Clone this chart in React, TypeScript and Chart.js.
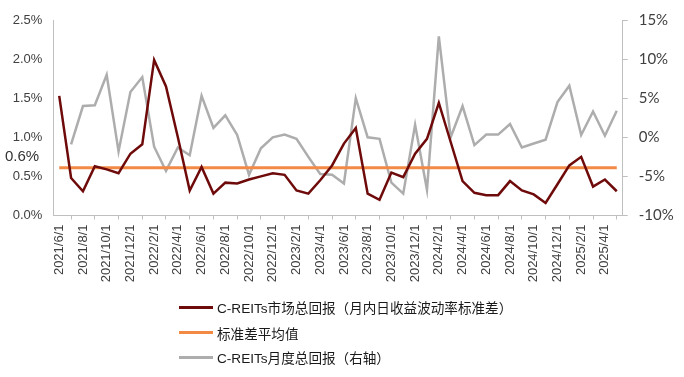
import React, { useEffect, useRef } from "react";
import { Chart, registerables } from "chart.js";

Chart.register(...registerables);

const categories: string[] = [
  "2021/6/1", "2021/7/1", "2021/8/1", "2021/9/1", "2021/10/1", "2021/11/1", "2021/12/1",
  "2022/1/1", "2022/2/1", "2022/3/1", "2022/4/1", "2022/5/1", "2022/6/1", "2022/7/1",
  "2022/8/1", "2022/9/1", "2022/10/1", "2022/11/1", "2022/12/1", "2023/1/1", "2023/2/1",
  "2023/3/1", "2023/4/1", "2023/5/1", "2023/6/1", "2023/7/1", "2023/8/1", "2023/9/1",
  "2023/10/1", "2023/11/1", "2023/12/1", "2024/1/1", "2024/2/1", "2024/3/1", "2024/4/1",
  "2024/5/1", "2024/6/1", "2024/7/1", "2024/8/1", "2024/9/1", "2024/10/1", "2024/11/1",
  "2024/12/1", "2025/1/1", "2025/2/1", "2025/3/1", "2025/4/1", "2025/5/1",
];

// C-REITs market total return: intra-month daily return volatility (std, %)
const volatility: number[] = [
  1.53, 0.48, 0.31, 0.63, 0.59, 0.54, 0.79, 0.91, 1.99, 1.65,
  1.0, 0.32, 0.62, 0.28, 0.42, 0.41, 0.46, 0.5, 0.54, 0.52,
  0.32, 0.28, 0.45, 0.64, 0.92, 1.12, 0.28, 0.2, 0.55, 0.49,
  0.79, 0.98, 1.44, 0.94, 0.44, 0.29, 0.26, 0.26, 0.44, 0.32,
  0.27, 0.16, 0.4, 0.64, 0.75, 0.37, 0.46, 0.31,
];

// Average of the standard deviation (%)
const volatilityMean = 0.61;
const meanLine: number[] = categories.map(() => volatilityMean);

// C-REITs monthly total return (%), right axis
const monthlyReturn: (number | null)[] = [
  null, -0.9, 4.0, 4.1, 8.0, -1.8, 5.8, 7.7, -1.2, -4.3,
  -1.3, -2.3, 5.3, 1.2, 2.8, 0.3, -4.8, -1.4, 0.0, 0.35,
  -0.2, -2.5, -4.7, -4.8, -5.9, 5.0, 0.0, -0.2, -5.8, -7.2,
  1.6, -6.7, 12.9, 0.0, 4.0, -1.0, 0.35, 0.35, 1.7, -1.3,
  -0.8, -0.3, 4.5, 6.6, 0.3, 3.3, 0.2, 3.4,
];

const leftTicks: number[] = [0, 0.5, 1.0, 1.5, 2.0, 2.5];
const rightTicks: number[] = [-10, -5, 0, 5, 10, 15];

const seriesNames: string[] = [
  "C-REITs市场总回报（月内日收益波动率标准差）",
  "标准差平均值",
  "C-REITs月度总回报（右轴）",
];
const annotationText = "0.6%";

const RED = "#6E0A0A";
const ORANGE = "#F28A46";
const GRAY = "#ADADAD";
const AXIS = "#BFBFBF";
const TEXT = "#404040";
const LATIN = "'Liberation Sans', Arial, sans-serif";
const CJK = "'Liberation Sans', 'Noto Sans CJK SC', sans-serif";

export default function App() {
  const ref = useRef<HTMLCanvasElement | null>(null);

  useEffect(() => {
    if (!ref.current) return;
    const annotation = {
      id: "meanLabel",
      afterDraw(chart: any) {
        const ctx = chart.ctx;
        ctx.save();
        ctx.font = "15px " + LATIN;
        ctx.fillStyle = "#333333";
        ctx.textAlign = "left";
        ctx.textBaseline = "middle";
        ctx.fillText(annotationText, 5, 157);
        ctx.restore();
      },
    };
    const chart = new Chart(ref.current, {
      type: "line",
      data: {
        labels: categories,
        datasets: [
          {
            label: seriesNames[0],
            data: volatility,
            borderColor: RED,
            borderWidth: 2.5,
            yAxisID: "y",
            pointRadius: 0,
            tension: 0,
          },
          {
            label: seriesNames[1],
            data: meanLine,
            borderColor: ORANGE,
            borderWidth: 3,
            yAxisID: "y",
            pointRadius: 0,
            tension: 0,
          },
          {
            label: seriesNames[2],
            data: monthlyReturn,
            borderColor: GRAY,
            borderWidth: 2.5,
            yAxisID: "y1",
            pointRadius: 0,
            tension: 0,
          },
        ],
      },
      options: {
        animation: false,
        responsive: false,
        layout: { padding: { top: 19, left: 0, right: 0, bottom: 0 } },
        plugins: { legend: { display: false }, tooltip: { enabled: false } },
        scales: {
          x: {
            offset: true,
            grid: {
              offset: true,
              drawOnChartArea: false,
              drawTicks: true,
              tickLength: 4,
              color: AXIS,
            },
            border: { display: true, color: AXIS, width: 1 },
            ticks: {
              autoSkip: false,
              minRotation: 90,
              maxRotation: 90,
              padding: 5,
              color: TEXT,
              font: { family: LATIN, size: 13 },
              callback: (_v: any, i: number) => (i % 2 === 0 ? categories[i] : null),
            },
            afterFit: (s: any) => {
              s.height = 161.5;
            },
          },
          y: {
            position: "left",
            min: 0,
            max: 2.5,
            afterBuildTicks: (s: any) => {
              s.ticks = leftTicks.map((v) => ({ value: v }));
            },
            grid: { drawOnChartArea: false, drawTicks: false },
            border: { display: true, color: AXIS, width: 1 },
            ticks: {
              padding: 11,
              color: TEXT,
              font: { family: LATIN, size: 13 },
              callback: (v: any) => Number(v).toFixed(1) + "%",
            },
            afterFit: (s: any) => {
              s.width = 53.3;
            },
          },
          y1: {
            position: "right",
            min: -10,
            max: 15,
            afterBuildTicks: (s: any) => {
              s.ticks = rightTicks.map((v) => ({ value: v }));
            },
            grid: { drawOnChartArea: false, drawTicks: true, tickLength: 5, color: AXIS },
            border: { display: true, color: AXIS, width: 1 },
            ticks: {
              padding: 11,
              color: TEXT,
              font: { family: "Lato, 'Liberation Sans', sans-serif", size: 15 },
              callback: (v: any) => v + "%",
            },
            afterFit: (s: any) => {
              s.width = 61.3;
            },
          },
        },
      },
      plugins: [annotation],
    } as any);
    return () => chart.destroy();
  }, []);

  const legendColors = [RED, ORANGE, GRAY];
  const legendY = [307, 332.5, 357];

  return (
    <div
      style={{
        position: "fixed",
        left: 0,
        top: 0,
        width: 684,
        height: 377,
        background: "#ffffff",
      }}
    >
      <canvas ref={ref} width={684} height={377} style={{ width: 684, height: 377, display: "block" }} />
      {seriesNames.map((name, i) => (
        <div
          key={name}
          style={{
            position: "absolute",
            left: 179,
            top: legendY[i] - 10,
            height: 20,
            display: "flex",
            alignItems: "center",
            whiteSpace: "nowrap",
            fontFamily: CJK,
            fontSize: 13.6,
            color: "#1a1a1a",
          }}
        >
          <span
            style={{
              display: "inline-block",
              width: 34,
              height: 3,
              background: legendColors[i],
              marginRight: 4,
            }}
          />
          <span>{name}</span>
        </div>
      ))}
    </div>
  );
}
